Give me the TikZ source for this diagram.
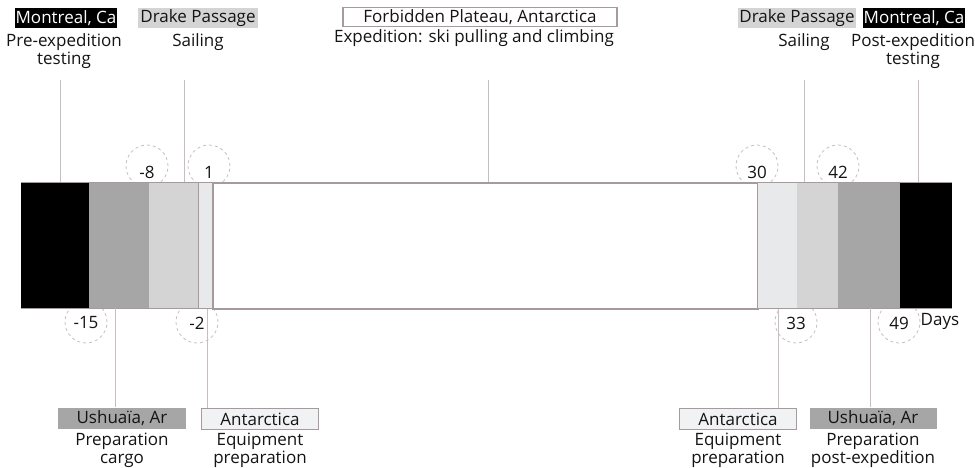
\documentclass[tikz,border=0pt]{standalone}
\usepackage{fontspec}
\setmainfont{Open Sans}
\begin{document}
\begin{tikzpicture}[x=1pt,y=-1pt,
  txt/.style={font=\fontsize{17}{18}\selectfont, text=black!92, inner sep=0pt},
  seg/.style={draw=none, inner sep=0pt, minimum height=126, anchor=north west},
  tag/.style={txt, minimum height=20, inner xsep=1pt},
  vline/.style={draw=lineg, line width=0.8pt},
  ring/.style={circle, draw=lineg, dashed, line width=0.8pt, minimum size=42, inner sep=0pt},
  num/.style={txt}]
\definecolor{lineg}{HTML}{C9BEBE}
\definecolor{darkg}{HTML}{A6A6A6}
\definecolor{midg}{HTML}{D4D4D4}
\definecolor{lightg}{HTML}{E7E9EB}
\definecolor{edgeg}{HTML}{A69A9A}
\useasboundingbox (0,0) rectangle (975,467);
\fill[white] (0,0) rectangle (975,467);

% dashed day rings (behind the bar)
\node[ring] (r1) at (147,166) {};
\node[ring] (r2) at (209,166) {};
\node[ring] (r3) at (757,166) {};
\node[ring] (r4) at (838,166) {};
\node[ring] (r5) at (86,322) {};
\node[ring] (r6) at (197,322) {};
\node[ring] (r7) at (796,322) {};
\node[ring] (r8) at (899,322) {};

% bar segments
\node[seg, fill=black, minimum width=68] (mtlL) at (21,182) {};
\node[seg, fill=darkg, minimum width=60] (ushL) at (89,182) {};
\node[seg, fill=midg, minimum width=49] (drkL) at (149,182) {};
\node[seg, fill=lightg, draw=edgeg, line width=1pt, minimum width=14] (antL) at (198,182) {};
\node[seg, fill=white, draw=edgeg, line width=1.6pt, minimum width=545] (exp) at (212,182) {};
\node[seg, fill=lightg, draw=edgeg, line width=1pt, minimum width=40] (antR) at (757,182) {};
\node[seg, fill=midg, minimum width=41] (drkR) at (797,182) {};
\node[seg, fill=darkg, minimum width=62] (ushR) at (838,182) {};
\node[seg, fill=black, minimum width=52] (mtlR) at (900,182) {};
\draw[edgeg, line width=0.8pt] (mtlL.north west) -- (mtlR.north east);
\draw[edgeg, line width=0.8pt] (mtlL.south west) -- (mtlR.south east);

% day numbers
\node[num] (n1) at (147,172) {-8};
\node[num] (n2) at (209,172) {1};
\node[num] (n3) at (757,172) {30};
\node[num] (n4) at (838,172) {42};
\node[num] (n5) at (86,323) {-15};
\node[num] (n6) at (197,323) {-2};
\node[num] (n7) at (796,323) {33};
\node[num] (n8) at (899,323) {49};
\node[num] (days) at (940,321) {Days};

% top labels
\node[tag, fill=black, text=white, minimum width=99] (tMtlL) at (66,18) {Montreal, Ca};
\node[txt, align=center, anchor=north] (sMtlL) at (64,33) {Pre-expedition\\testing};
\node[tag, fill=midg, minimum width=120] (tDrkL) at (198,18) {Drake Passage};
\node[txt, anchor=north] (sDrkL) at (198,33) {Sailing};
\node[tag, fill=white, draw=edgeg, line width=1.2pt, minimum width=274, minimum height=19] (tExp) at (480,17) {Forbidden Plateau, Antarctica};
\node[txt, anchor=north] (sExp) at (474,29) {Expedition: ski pulling and climbing};
\node[tag, fill=midg, minimum width=118] (tDrkR) at (797,18) {Drake Passage};
\node[txt, anchor=north] (sDrkR) at (804,33) {Sailing};
\node[tag, fill=black, text=white, minimum width=99] (tMtlR) at (914,18) {Montreal, Ca};
\node[txt, align=center, anchor=north] (sMtlR) at (913,33) {Post-expedition\\testing};

% bottom labels
\node[tag, fill=darkg, minimum width=128, minimum height=21] (bUshL) at (122,418) {Ushuaïa, Ar};
\node[txt, align=center, anchor=north] (cUshL) at (122,433) {Preparation\\cargo};
\node[tag, fill=lightg!60, draw=edgeg, line width=1pt, minimum width=117, minimum height=21] (bAntL) at (260,419) {Antarctica};
\node[txt, align=center, anchor=north] (cAntL) at (260,433) {Equipment\\preparation};
\node[tag, fill=lightg!60, draw=edgeg, line width=1pt, minimum width=117, minimum height=21] (bAntR) at (738,419) {Antarctica};
\node[txt, align=center, anchor=north] (cAntR) at (738,433) {Equipment\\preparation};
\node[tag, fill=darkg, minimum width=127, minimum height=21] (bUshR) at (873,418) {Ushuaïa, Ar};
\node[txt, align=center, anchor=north] (cUshR) at (873,433) {Preparation\\post-expedition};

% leader lines
\coordinate (p1) at (60,80);
\coordinate (p2) at (184,80);
\coordinate (p3) at (488,80);
\coordinate (p4) at (804,80);
\coordinate (p5) at (918,80);
\draw[vline] (p1) -- (p1 |- mtlL.north);
\draw[vline] (p2) -- (p2 |- drkL.north);
\draw[vline] (p3) -- (p3 |- exp.north);
\draw[vline] (p4) -- (p4 |- drkR.north);
\draw[vline] (p5) -- (p5 |- mtlR.north);
\coordinate (q1) at (115,0);
\coordinate (q2) at (207,0);
\coordinate (q3) at (778,0);
\coordinate (q4) at (870,0);
\draw[vline] (q1 |- ushL.south) -- (q1 |- bUshL.north);
\draw[vline] (q2 |- antL.south) -- (q2 |- bAntL.north);
\draw[vline] (q3 |- antR.south) -- (q3 |- bAntR.north);
\draw[vline] (q4 |- ushR.south) -- (q4 |- bUshR.north);
\end{tikzpicture}
\end{document}
